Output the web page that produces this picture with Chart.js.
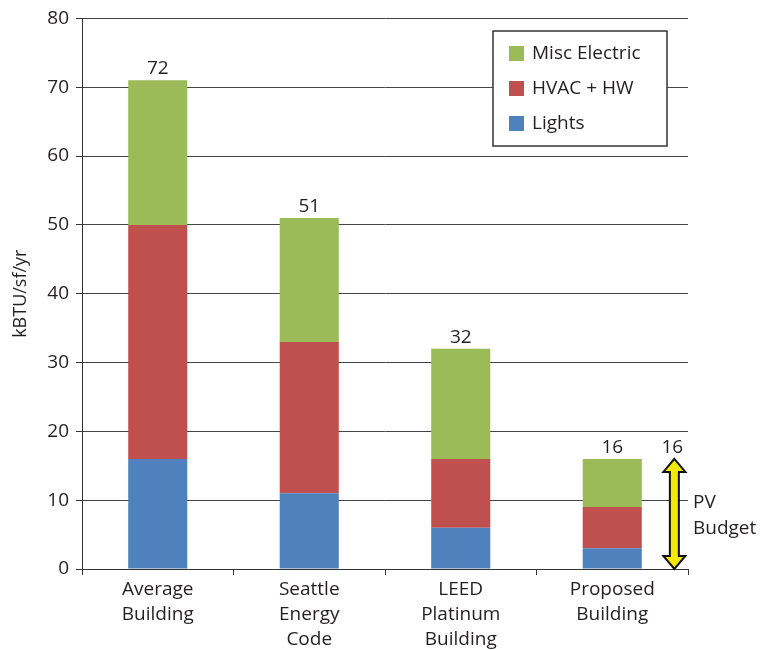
<!DOCTYPE html>
<html>
<head>
<meta charset="utf-8">
<script src="https://cdn.jsdelivr.net/npm/chart.js@4/dist/chart.umd.min.js"></script>
<style>
  html, body { margin: 0; padding: 0; background: #fff; }
  #wrap { width: 760px; height: 650px; }
</style>
</head>
<body>
<div id="wrap"><canvas id="canvas" width="760" height="650"></canvas></div>
<script>
const categories = [['Average', 'Building'], ['Seattle', 'Energy', 'Code'], ['LEED', 'Platinum', 'Building'], ['Proposed', 'Building']];
const lights = [16, 11, 6, 3];
const hvac = [34, 22, 10, 6];
const misc = [21, 18, 16, 7];
const totalLabels = ['72', '51', '32', '16'];
const pvBudget = 16;
const pvLabel = '16';
const pvText = ['PV', 'Budget'];

const FONT = '"Open Sans", sans-serif';
const ink = '#231f20';

// totals on top of bars, the PV arrow, and the boxed legend
const extras = {
    id: 'extras',
    afterDatasetsDraw(chart) {
        const ctx = chart.ctx;
        const xs = chart.scales.x;
        const ys = chart.scales.y;
        ctx.save();
        ctx.fillStyle = ink;
        ctx.font = '19px ' + FONT;
        ctx.textAlign = 'center';
        ctx.textBaseline = 'alphabetic';
        for (let i = 0; i < categories.length; i++) {
            const top = lights[i] + hvac[i] + misc[i];
            ctx.fillText(totalLabels[i], xs.getPixelForValue(i), ys.getPixelForValue(top) - 6);
        }

        // PV budget arrow
        const ax = xs.getPixelForValue(3.41);
        const yT = ys.getPixelForValue(pvBudget);
        const yB = ys.getPixelForValue(0);
        const hw = 11, hh = 13, sw = 4.5;
        ctx.beginPath();
        ctx.moveTo(ax, yT);
        ctx.lineTo(ax + hw, yT + hh);
        ctx.lineTo(ax + sw, yT + hh);
        ctx.lineTo(ax + sw, yB - hh);
        ctx.lineTo(ax + hw, yB - hh);
        ctx.lineTo(ax, yB);
        ctx.lineTo(ax - hw, yB - hh);
        ctx.lineTo(ax - sw, yB - hh);
        ctx.lineTo(ax - sw, yT + hh);
        ctx.lineTo(ax - hw, yT + hh);
        ctx.closePath();
        ctx.fillStyle = '#f4ea00';
        ctx.fill();
        ctx.lineWidth = 2;
        ctx.strokeStyle = '#111';
        ctx.stroke();

        ctx.fillStyle = ink;
        ctx.fillText(pvLabel, ax - 2, yT - 6);
        ctx.textAlign = 'left';
        ctx.textBaseline = 'middle';
        ctx.fillText(pvText[0], chart.chartArea.right + 5, ys.getPixelForValue(9.7));
        ctx.fillText(pvText[1], chart.chartArea.right + 5, ys.getPixelForValue(5.8));

        // legend box
        const bx = 493, by = 31, bw = 174, bh = 115;
        ctx.fillStyle = '#fff';
        ctx.fillRect(bx, by, bw, bh);
        ctx.lineWidth = 1.5;
        ctx.strokeStyle = '#333';
        ctx.strokeRect(bx, by, bw, bh);
        const items = chart.data.datasets.slice().reverse();
        items.forEach((ds, k) => {
            const cy = by + 22 + k * 35;
            ctx.fillStyle = ds.backgroundColor;
            ctx.fillRect(bx + 16, cy - 7, 15, 15);
            ctx.fillStyle = ink;
            ctx.fillText(ds.label, bx + 39, cy + 1);
        });
        ctx.restore();
    }
};

new Chart(document.getElementById('canvas'), {
    type: 'bar',
    data: {
        labels: categories,
        datasets: [
            { label: 'Lights', data: lights, backgroundColor: '#4f81bd' },
            { label: 'HVAC + HW', data: hvac, backgroundColor: '#c0504d' },
            { label: 'Misc Electric', data: misc, backgroundColor: '#9bbb59' }
        ]
    },
    options: {
        responsive: false,
        animation: false,
        layout: { padding: { top: 15, right: 72, left: 0, bottom: 0 } },
        datasets: { bar: { barPercentage: 0.39, categoryPercentage: 1 } },
        plugins: { legend: { display: false }, tooltip: { enabled: false } },
        scales: {
            x: {
                stacked: true,
                afterFit: (s) => { s.height = 81; },
                grid: {
                    offset: true,
                    color: (c) => (c.index === categories.length ? '#333' : 'rgba(0,0,0,0)'),
                    tickColor: '#333',
                    tickLength: 6
                },
                border: { color: '#333' },
                ticks: { color: ink, font: { family: FONT, size: 19, lineHeight: 1.32 }, padding: 2, maxRotation: 0 }
            },
            y: {
                stacked: true,
                min: 0,
                max: 80,
                afterFit: (s) => { s.width = 82; },
                grid: { color: '#444', tickColor: '#333', tickLength: 6 },
                border: { color: '#333' },
                ticks: { stepSize: 10, color: ink, font: { family: FONT, size: 19 }, padding: 7 },
                title: { display: true, text: 'kBTU/sf/yr', color: ink, font: { family: FONT, size: 18 }, padding: { top: 10, bottom: 0 } }
            }
        }
    },
    plugins: [extras]
});
</script>
</body>
</html>
